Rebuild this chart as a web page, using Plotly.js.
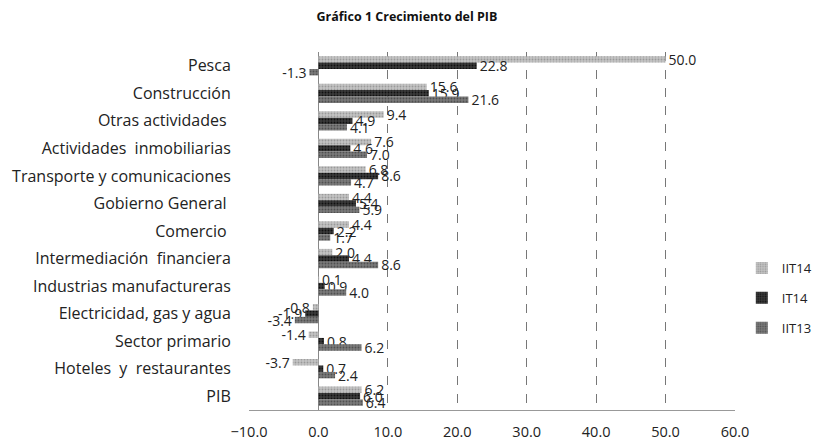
<!DOCTYPE html>
<html>
<head>
<meta charset="utf-8">
<script src="https://cdn.plot.ly/plotly-3.0.1.min.js"></script>
<style>html,body{margin:0;padding:0;background:#fff;}#chart{width:834px;height:443px;}</style>
</head>
<body>
<div id="chart"></div>
<script>
const categories = ["Pesca", "Construcción", "Otras actividades\u00a0", "Actividades  inmobiliarias", "Transporte y comunicaciones", "Gobierno General\u00a0", "Comercio\u00a0", "Intermediación  financiera", "Industrias manufactureras", "Electricidad, gas y agua", "Sector primario", "Hoteles  y  restaurantes", "PIB"];
const seriesNames = ["IIT14", "IT14", "IIT13"];
const iit14 = [50.0, 15.6, 9.4, 7.6, 6.8, 4.4, 4.4, 2.0, 0.1, -0.8, -1.4, -3.7, 6.2];
const it14  = [22.8, 15.9, 4.9, 4.6, 8.6, 5.4, 2.2, 4.4, 0.9, -1.9, 0.8, 0.7, 6.0];
const iit13 = [-1.3, 21.6, 4.1, 7.0, 4.7, 5.9, 1.7, 8.6, 4.0, -3.4, 6.2, 2.4, 6.4];
const xTicks = [-10, 0, 10, 20, 30, 40, 50, 60];

const colors = ["#c4c4c4", "#3a3a3a", "#7a7a7a"];
const fg = ["#9a9a9a", "#111111", "#505050"];
const font = "Open Sans, Noto Sans, sans-serif";

const data = [iit14, it14, iit13].map((vals, i) => ({
  type: "bar",
  orientation: "h",
  name: seriesNames[i],
  y: categories,
  x: vals,
  legendgroup: "g" + i,
  marker: {color: colors[i], line: {width: 0}, pattern: {shape: ".", fgcolor: fg[i], bgcolor: colors[i], size: 3, solidity: 0.3}},
  texttemplate: "%{x:.1f}",
  textposition: "outside",
  constraintext: "none",
  cliponaxis: false,
  textfont: {family: font, size: 14, color: "#222"},
  hoverinfo: "skip"
}));

const layout = {
  width: 834, height: 443,
  paper_bgcolor: "#fff", plot_bgcolor: "#fff",
  margin: {l: 249, r: 99, t: 52, b: 33, autoexpand: false},
  title: {text: "<b>Gráfico 1 Crecimiento del PIB</b>", x: 0.488, xanchor: "center", y: 0.962, yanchor: "middle", font: {family: font, size: 12.5, color: "#111"}},
  barmode: "group",
  bargap: 0.3,
  bargroupgap: 0,
  showlegend: true,
  legend: {x: 1.014, xanchor: "left", y: 0.313, yanchor: "middle", traceorder: "grouped", tracegroupgap: 10, font: {family: font, size: 13, color: "#222"}, itemwidth: 30},
  xaxis: {
    range: [-10, 60], tickvals: xTicks, tickformat: ".1f",
    showgrid: true, gridcolor: "#777", griddash: "dash", gridwidth: 1,
    zeroline: true, zerolinecolor: "#888", zerolinewidth: 1,
    showline: true, linecolor: "#999", linewidth: 1,
    ticks: "outside", ticklen: 9, tickcolor: "rgba(0,0,0,0)",
    tickfont: {family: font, size: 14.5, color: "#222"},
    fixedrange: true
  },
  yaxis: {
    type: "category", autorange: "reversed",
    showgrid: false, zeroline: false, showline: false,
    ticks: "outside", ticklen: 14, tickcolor: "rgba(0,0,0,0)",
    tickfont: {family: font, size: 16, color: "#222"},
    fixedrange: true
  }
};

Plotly.newPlot("chart", data, layout, {displayModeBar: false, staticPlot: true});
</script>
</body>
</html>
